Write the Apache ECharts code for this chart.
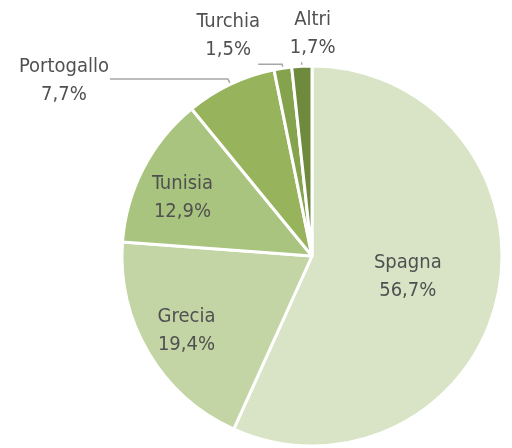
<!DOCTYPE html>
<html>
<head>
<meta charset="utf-8">
<title>Pie</title>
<script src="https://cdn.jsdelivr.net/npm/echarts@6/dist/echarts.min.js"></script>
<style>
    html, body { margin: 0; padding: 0; background: #fff; }
    #chart { width: 512px; height: 448px; }
</style>
</head>
<body>
<div id="chart"></div>
<script>
// dati
var paesi = ['Spagna', 'Grecia', 'Tunisia', 'Portogallo', 'Turchia', 'Altri'];
var quote = [56.7, 19.4, 12.9, 7.7, 1.5, 1.7];
var colori = ['#d8e4c5', '#c3d5a4', '#a9c47e', '#97b35c', '#85a34c', '#6f8a3d'];

var font = '"Liberation Sans Narrow", "DejaVu Sans Condensed", sans-serif';

function fmt(v) {
    return v.toFixed(1).replace('.', ',') + '%';
}

// etichette: dentro (0), nella serie esterna (1,2), fuori con linea (3,4,5)
var linee = [null, null, null, [6, 118], [4, 24], [4, 0]];
var spost = [null, null, null, [-46, 2], [-30, -29], [11, -28]];

var dati = [];
var datiEtich = [];
for (var i = 0; i < paesi.length; i++) {
    var item = {
        name: paesi[i],
        value: quote[i],
        itemStyle: { color: colori[i] }
    };
    if (i == 0) {
        item.label = { show: true, position: 'inside' };
    } else if (i < 3) {
        item.label = { show: false };
    } else {
        item.label = { show: true, position: 'outside' };
        item.labelLine = { show: true, length: linee[i][0], length2: linee[i][1] };
    }
    dati.push(item);
    datiEtich.push({
        name: paesi[i],
        value: quote[i],
        label: { show: (i == 1 || i == 2) }
    });
}

var stileTesto = {
    color: '#505050',
    fontSize: 20,
    lineHeight: 28,
    fontFamily: font,
    align: 'center',
    formatter: function (p) { return p.name + '\n' + fmt(p.value); }
};

var myChart = echarts.init(document.getElementById('chart'));
var option = {
    animation: false,
    series: [{
        type: 'pie',
        center: [312, 256],
        radius: 190,
        startAngle: 90,
        avoidLabelOverlap: false,
        itemStyle: {
            borderColor: '#fff',
            borderWidth: 3
        },
        label: stileTesto,
        labelLine: {
            lineStyle: { color: '#a6a6a6', width: 1.5 }
        },
        labelLayout: function (p) {
            var s = spost[p.dataIndex];
            if (!s || !p.labelLinePoints) return {};
            var pts = p.labelLinePoints;
            var fine = pts[2];
            return {
                x: fine[0] + s[0],
                y: fine[1] + s[1],
                align: 'center',
                verticalAlign: 'middle',
                labelLinePoints: pts
            };
        },
        data: dati
    }, {
        // serie trasparente solo per le etichette di Grecia e Tunisia
        type: 'pie',
        center: [312, 256],
        radius: 286,
        startAngle: 90,
        silent: true,
        itemStyle: { color: 'rgba(0,0,0,0)' },
        label: echarts.util.extend({ position: 'inside' }, stileTesto),
        labelLine: { show: false },
        labelLayout: function (p) {
            return p.dataIndex == 2 ? { dy: 9 } : {};
        },
        data: datiEtich
    }]
};
myChart.setOption(option);
</script>
</body>
</html>
